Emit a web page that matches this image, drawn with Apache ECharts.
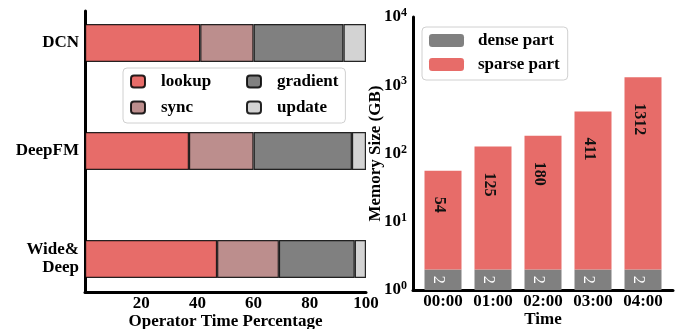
<!DOCTYPE html>
<html><head><meta charset="utf-8">
<script src="https://cdn.jsdelivr.net/npm/echarts@6/dist/echarts.min.js"></script>
<style>html,body{margin:0;padding:0;background:#fff}#c{width:678px;height:329px}</style>
</head><body><div id="c"></div>
<script>
// ---- data ----
const models = ['DCN', 'DeepFM', 'Wide&Deep'];
const lookup = [41, 37, 47];
const sync = [19, 23, 22];
const gradient = [32, 35, 27];
const update = [8, 5, 4];
const times = ['00:00', '01:00', '02:00', '03:00', '04:00'];
const dense = [2, 2, 2, 2, 2];
const sparse = [54, 125, 180, 411, 1312];

const FONT = "'Liberation Serif', 'Times New Roman', serif";
const RED = '#e76c69', SYNC = '#bc8e8d', GRAY = '#808080', LIGHT = '#d3d3d3';
const chart = echarts.init(document.getElementById('c'), null, {renderer: 'canvas'});
const boldTxt = {fontFamily: FONT, fontWeight: 'bold', fontSize: 17, color: '#000'};
const line3 = {show: true, onZero: false, lineStyle: {color: '#000', width: 3}};
const barBorder = {borderColor: 'rgba(0,0,0,0.85)', borderWidth: 1.2};

function hBar(name, data, color) {
  return {
    type: 'bar', name, data, stack: 'ops', xAxisIndex: 0, yAxisIndex: 0,
    barWidth: '35%', itemStyle: Object.assign({color}, barBorder), emphasis: {disabled: true}
  };
}
const gridBase = {containLabel: false, outerBoundsMode: 'none'};

const option = {
  animation: false,
  backgroundColor: '#fff',
  grid: [
    Object.assign({left: 85, top: -11, width: 281, height: 324}, gridBase),
    Object.assign({left: 85, top: 11, width: 281, height: 281}, gridBase),
    Object.assign({left: 418, top: 17, width: 250, height: 273}, gridBase),
    Object.assign({left: 413, top: 17, width: 260, height: 273}, gridBase)
  ],
  legend: [
    {
      orient: 'vertical', left: 123, top: 68, height: 44,
      padding: [5, 7, 7, 7], itemGap: 9, itemWidth: 14, itemHeight: 12,
      borderColor: '#d0d0d0', borderWidth: 1, borderRadius: 4, backgroundColor: 'rgba(255,255,255,0.85)',
      selectedMode: false,
      textStyle: Object.assign({}, boldTxt, {lineHeight: 17, padding: [0, 0, 0, 11]}),
      data: [
        {name: 'lookup', textStyle: {width: 76}},
        {name: 'sync', textStyle: {width: 76}},
        {name: 'gradient'},
        {name: 'update'}
      ]
    },
    {
      orient: 'vertical', left: 422, top: 27,
      padding: [5, 8, 7, 7], itemGap: 7, itemWidth: 35, itemHeight: 13,
      borderColor: '#d0d0d0', borderWidth: 1, borderRadius: 4, backgroundColor: 'rgba(255,255,255,0.85)',
      selectedMode: false,
      textStyle: Object.assign({}, boldTxt, {lineHeight: 17, padding: [0, 0, 0, 9]}),
      data: ['dense part', 'sparse part']
    }
  ],
  xAxis: [
    {gridIndex: 0, type: 'value', min: 0, max: 100, show: false},
    {gridIndex: 1, type: 'value', min: 0, max: 100, interval: 20,
      axisLine: line3, axisTick: {show: false}, splitLine: {show: false},
      axisLabel: Object.assign({}, boldTxt, {margin: 3, formatter: v => v === 0 ? '' : String(v)}),
      name: 'Operator Time Percentage', nameLocation: 'middle', nameGap: 21, nameMoveOverlap: false,
      nameTextStyle: boldTxt},
    {gridIndex: 2, type: 'category', data: times,
      axisLine: {show: false}, axisTick: {show: false},
      axisLabel: Object.assign({}, boldTxt, {margin: 3, interval: 0}),
      name: 'Time', nameLocation: 'middle', nameGap: 21, nameMoveOverlap: false, nameTextStyle: boldTxt},
    {gridIndex: 3, type: 'value', min: 0, max: 1,
      axisLine: line3, axisTick: {show: false}, axisLabel: {show: false}, splitLine: {show: false}}
  ],
  yAxis: [
    {gridIndex: 0, type: 'category', data: models, inverse: true,
      axisLine: {show: false}, axisTick: {show: false},
      axisLabel: Object.assign({}, boldTxt, {margin: 6, lineHeight: 18, interval: 0, formatter: v => v.replace('&', '&\n')})},
    {gridIndex: 1, type: 'value', min: 0, max: 1,
      axisLine: line3, axisTick: {show: false}, axisLabel: {show: false}, splitLine: {show: false}},
    {gridIndex: 2, type: 'log', min: 1, max: 10000, logBase: 10, show: false},
    {gridIndex: 3, type: 'log', min: 1, max: 10000, logBase: 10,
      axisLine: line3, axisTick: {show: false}, splitLine: {show: false}, minorTick: {show: false},
      axisLabel: {
        margin: 6,
        formatter: v => '{b|10}{s|' + Math.round(Math.log10(v)) + '}',
        rich: {
          b: {fontFamily: FONT, fontWeight: 'bold', fontSize: 17, color: '#000', lineHeight: 20},
          s: {fontFamily: FONT, fontWeight: 'bold', fontSize: 12, color: '#000', verticalAlign: 'top', lineHeight: 12}
        }
      },
      name: 'Memory Size (GB)', nameLocation: 'middle', nameGap: 29, nameMoveOverlap: false, nameTextStyle: boldTxt}
  ],
  series: [
    hBar('lookup', lookup, RED),
    hBar('sync', sync, SYNC),
    hBar('gradient', gradient, GRAY),
    hBar('update', update, LIGHT),
    {
      type: 'bar', name: 'dense part', data: dense, stack: 'mem', xAxisIndex: 2, yAxisIndex: 2,
      barWidth: '74%', itemStyle: {color: GRAY}, emphasis: {disabled: true},
      label: {show: true, position: 'inside', rotate: -90, offset: [0, 5],
        fontFamily: FONT, fontSize: 16, color: '#fff'}
    },
    {
      type: 'bar', name: 'sparse part', data: sparse, stack: 'mem', xAxisIndex: 2, yAxisIndex: 2,
      barWidth: '74%', itemStyle: {color: RED}, emphasis: {disabled: true},
      label: {show: true, position: 'insideTop', distance: 26, rotate: -90, align: 'left', verticalAlign: 'middle',
        offset: [0, 4], fontFamily: FONT, fontWeight: 'bold', fontSize: 16, color: '#111'}
    }
  ]
};
chart.setOption(option);
</script>
</body></html>
